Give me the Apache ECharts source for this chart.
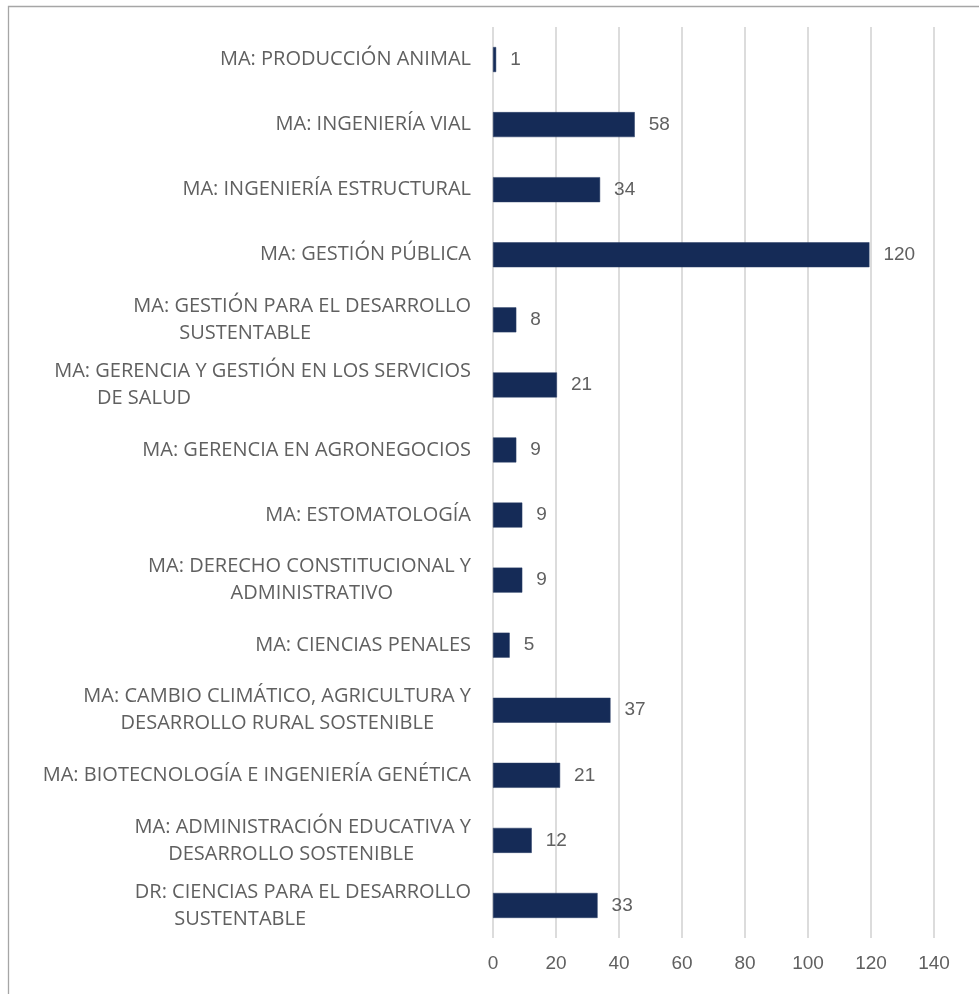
<!DOCTYPE html>
<html>
<head>
<meta charset="utf-8">
<script src="https://cdn.jsdelivr.net/npm/echarts@6/dist/echarts.min.js"></script>
<style>
  html, body { margin: 0; padding: 0; background: #fff; }
  #chart { width: 979px; height: 994px; }
</style>
</head>
<body>
<div id="chart"></div>
<script>
// categorias (de arriba hacia abajo)
var programas = [
    'MA: PRODUCCIÓN ANIMAL',
    'MA: INGENIERÍA VIAL',
    'MA: INGENIERÍA ESTRUCTURAL',
    'MA: GESTIÓN PÚBLICA',
    'MA: GESTIÓN PARA EL DESARROLLO\nSUSTENTABLE',
    'MA: GERENCIA Y GESTIÓN EN LOS SERVICIOS\nDE SALUD',
    'MA: GERENCIA EN AGRONEGOCIOS',
    'MA: ESTOMATOLOGÍA',
    'MA: DERECHO CONSTITUCIONAL Y\nADMINISTRATIVO',
    'MA: CIENCIAS PENALES',
    'MA: CAMBIO CLIMÁTICO, AGRICULTURA Y\nDESARROLLO RURAL SOSTENIBLE',
    'MA: BIOTECNOLOGÍA E INGENIERÍA GENÉTICA',
    'MA: ADMINISTRACIÓN EDUCATIVA Y\nDESARROLLO SOSTENIBLE',
    'DR: CIENCIAS PARA EL DESARROLLO\nSUSTENTABLE'
];
// largo de las barras tal como se ven en la imagen
var barras = [1, 45, 34, 119.5, 7.4, 20.3, 7.4, 9.3, 9.3, 5.3, 37.3, 21.3, 12.3, 33.2];
// etiquetas mostradas junto a cada barra
var etiquetas = [1, 58, 34, 120, 8, 21, 9, 9, 9, 5, 37, 21, 12, 33];
var ticksX = [0, 20, 40, 60, 80, 100, 120, 140];

// sangria (px) de la segunda linea de cada etiqueta
var sangria = [0, 0, 0, 0, 160, 280, 0, 0, 78, 0, 37, 0, 57, 165];

var fuente = '"Open Sans", "Noto Sans", sans-serif';
var gris = '#606060';

var rich = { a: { fontSize: 20, lineHeight: 27, color: gris, fontFamily: fuente } };
sangria.forEach(function (p, i) {
    rich['p' + i] = { fontSize: 20, lineHeight: 27, color: gris, fontFamily: fuente, padding: [0, p, 0, 0] };
});

var myChart = echarts.init(document.getElementById('chart'));
var option = {
    animation: false,
    backgroundColor: '#fff',
    graphic: [{
        type: 'rect',
        shape: { x: 8.5, y: 6.5, width: 1200, height: 1200 },
        style: { fill: 'none', stroke: '#a6a6a6', lineWidth: 1.3 },
        z: 100
    }],
    grid: { left: 493, right: 45, top: 27, bottom: 56, containLabel: false },
    xAxis: {
        type: 'value',
        min: 0,
        max: 140,
        interval: 20,
        axisLine: { show: false },
        axisTick: { show: false },
        splitLine: { show: true, lineStyle: { color: '#dcdcdc', width: 2 } },
        axisLabel: {
            margin: 16,
            fontSize: 19,
            color: gris,
            fontFamily: '"Liberation Sans", Arial, sans-serif',
            formatter: function (v) { return ticksX.indexOf(v) >= 0 ? String(v) : ''; }
        }
    },
    yAxis: {
        type: 'category',
        inverse: true,
        data: programas,
        axisLine: { show: false },
        axisTick: { show: false },
        axisLabel: {
            interval: 0,
            margin: 22,
            align: 'right',
            formatter: function (v, i) {
                var partes = v.split('\n');
                if (partes.length === 1) return '{a|' + partes[0] + '}';
                return '{a|' + partes[0] + '}\n{p' + i + '|' + partes[1] + '}';
            },
            rich: rich
        }
    },
    series: [{
        type: 'bar',
        data: barras,
        barWidth: 25,
        itemStyle: { color: '#152b57', borderColor: '#2a3f66', borderWidth: 0.5 },
        label: {
            show: true,
            position: 'right',
            distance: 14,
            fontSize: 19,
            color: gris,
            fontFamily: '"Liberation Sans", Arial, sans-serif',
            formatter: function (p) { return String(etiquetas[p.dataIndex]); }
        }
    }]
};
myChart.setOption(option);
</script>
</body>
</html>
